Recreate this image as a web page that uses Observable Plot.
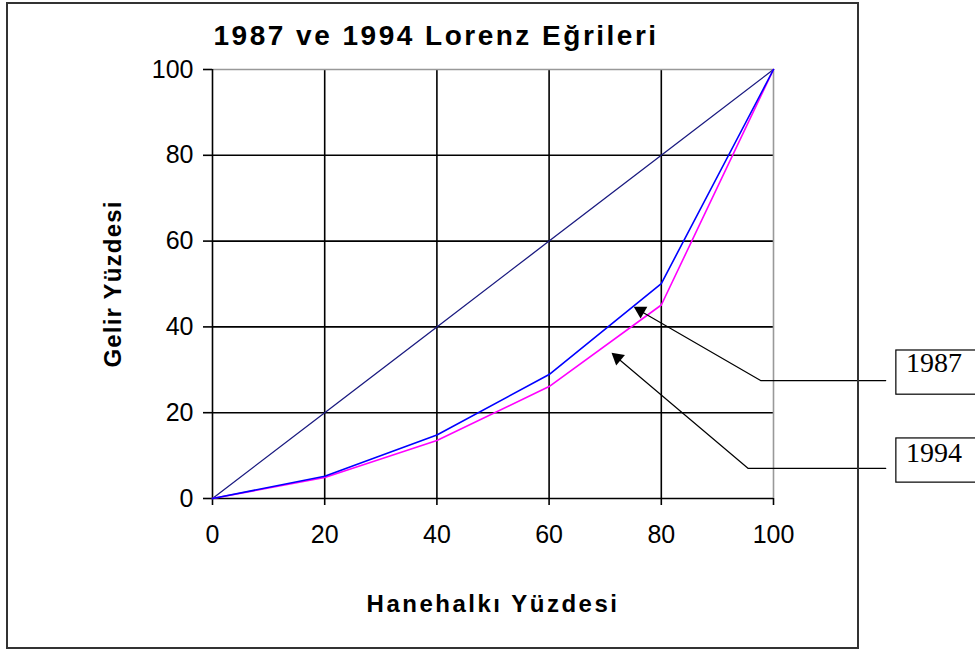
<!DOCTYPE html>
<html>
<head>
<meta charset="utf-8">
<script src="https://cdn.jsdelivr.net/npm/d3@7"></script>
<script src="https://cdn.jsdelivr.net/npm/@observablehq/plot@0.6"></script>
<style>
  html, body { margin: 0; padding: 0; background: white; overflow: hidden; }
  #wrap { position: relative; width: 975px; height: 650px; }
  #border { position: absolute; left: 6px; top: 2px; width: 849px; height: 643px; border: 2px solid #333; box-sizing: content-box; pointer-events: none; }
</style>
</head>
<body>
<div id="wrap"><div id="border"></div></div>
<script>
// ---- data ----
const household = [0, 20, 40, 60, 80, 100];          // Hanehalkı Yüzdesi (x)
const equality  = [0, 20, 40, 60, 80, 100];          // tam eşitlik doğrusu
const income1987 = [0, 5.2, 14.8, 28.9, 50.1, 100];  // 1987 Lorenz
const income1994 = [0, 4.9, 13.5, 26.1, 45.1, 100];  // 1994 Lorenz
const tickValues = [0, 20, 40, 60, 80, 100];
const seriesLabels = ["1987", "1994"];
// annotation anchors (data units): arrow tip -> elbow -> box
const leaderX = [[75.5, 97.7, 120], [71.5, 95.5, 120]];
const leaderY = [[44.3, 27.5, 27.5], [33.5, 7.0, 7.0]];
const headX = [76.3, 72.2];
const headY = [43.8, 32.8];
const headAngle = [-60, -50];
const boxY1 = [24.2, 3.7];
const boxY2 = [34.5, 14.0];
const boxTextY = [31.5, 10.7];

const titleText = "1987 ve 1994 Lorenz Eğrileri";
const xLabel = "Hanehalkı Yüzdesi";
const yLabel = "Gelir Yüzdesi";

// ---- build tables ----
const eqData = household.map((x, i) => ({x, y: equality[i]}));
const d87 = household.map((x, i) => ({x, y: income1987[i]}));
const d94 = household.map((x, i) => ({x, y: income1994[i]}));
const leaders = seriesLabels.flatMap((s, k) => leaderX[k].map((x, j) => ({s, x, y: leaderY[k][j]})));
const heads = seriesLabels.map((s, k) => ({s, x: headX[k], y: headY[k], a: headAngle[k]}));
const boxes = seriesLabels.map((s, k) => ({s, y1: boxY1[k], y2: boxY2[k], ty: boxTextY[k]}));

const font = "Arial, 'Liberation Sans', sans-serif";

const chart = Plot.plot({
  width: 975,
  height: 650,
  marginLeft: 212,
  marginRight: 202,
  marginTop: 69,
  marginBottom: 152,
  x: {domain: [0, 100], axis: null},
  y: {domain: [0, 100], axis: null},
  style: {fontFamily: font, background: "transparent", overflow: "hidden"},
  marks: [
    // grid
    Plot.ruleX(tickValues.filter(d => d > 0 && d < 100), {stroke: "black", strokeWidth: 1.6}),
    Plot.ruleY(tickValues.filter(d => d > 0 && d < 100), {stroke: "black", strokeWidth: 1.6}),
    Plot.ruleX([100], {stroke: "#999", strokeWidth: 1.6}),
    Plot.ruleY([100], {stroke: "#999", strokeWidth: 1.6}),
    Plot.ruleX([0], {stroke: "black", strokeWidth: 1.6}),
    Plot.ruleY([0], {stroke: "black", strokeWidth: 1.6}),
    // axes
    Plot.axisX({ticks: tickValues, tickSize: 7, tickPadding: 20, fontSize: 25, label: null, stroke: "black", strokeWidth: 1.6, fill: "black"}),
    Plot.axisY({ticks: tickValues, tickSize: 9, tickPadding: 10, fontSize: 25, label: null, stroke: "black", strokeWidth: 1.6, fill: "black"}),
    // lines
    Plot.line(eqData, {x: "x", y: "y", stroke: "#1a1a80", strokeWidth: 1.3}),
    Plot.line(d94, {x: "x", y: "y", stroke: "#ff00ff", strokeWidth: 1.6}),
    Plot.line(d87, {x: "x", y: "y", stroke: "#0000ff", strokeWidth: 1.6}),
    // annotations
    Plot.line(leaders, {x: "x", y: "y", z: "s", stroke: "black", strokeWidth: 1.2}),
    Plot.dot(heads, {x: "x", y: "y", symbol: "triangle2", r: 6.5, fill: "black", stroke: "none", rotate: "a"}),
    Plot.rect(boxes, {x1: 121.9, x2: 140, y1: "y1", y2: "y2", fill: "white", stroke: "black", strokeWidth: 1.2}),
    Plot.text(boxes, {x: 123.6, y: "ty", text: "s", textAnchor: "start", lineAnchor: "middle", fontSize: 28, fontFamily: "'Liberation Serif', 'Times New Roman', serif", fill: "black"}),
    // titles
    Plot.text([titleText], {frameAnchor: "top-left", dx: 1, dy: -33.5, textAnchor: "start", lineAnchor: "middle", fontSize: 28, fontWeight: "bold", fill: "black"}),
    Plot.text([xLabel], {frameAnchor: "bottom", dy: 106, lineAnchor: "middle", fontSize: 24, fontWeight: "bold", fill: "black"}),
    Plot.text([yLabel], {x: -17.6, y: 50, rotate: -90, textAnchor: "middle", lineAnchor: "middle", fontSize: 24, fontWeight: "bold", fill: "black"})
  ]
});

const sel = d3.select(chart);
sel.selectAll("text").filter(function() { return this.textContent === titleText; }).style("letter-spacing", "2.5px");
sel.selectAll("text").filter(function() { return this.textContent === xLabel; }).style("letter-spacing", "2.5px");
sel.selectAll("text").filter(function() { return this.textContent === yLabel; }).style("letter-spacing", "1.2px");

chart.style.position = "absolute";
chart.style.left = "0px";
chart.style.top = "0px";
document.getElementById("wrap").prepend(chart);
</script>
</body>
</html>
